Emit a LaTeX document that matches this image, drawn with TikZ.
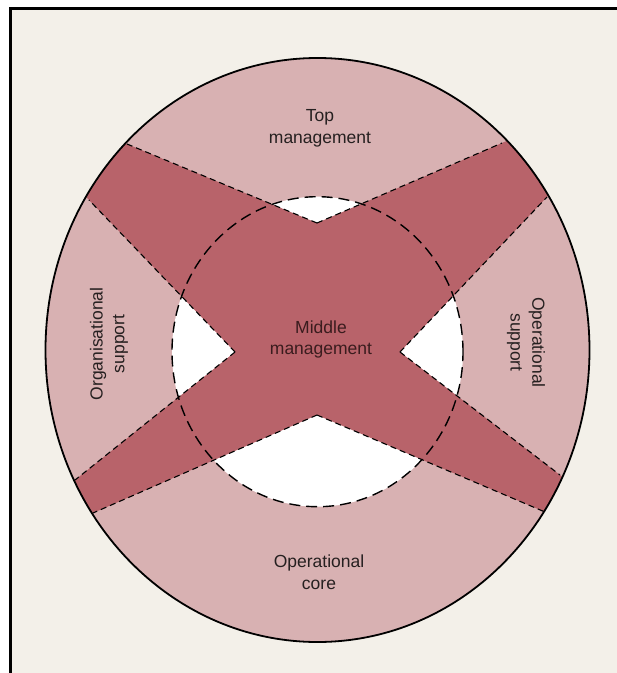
\documentclass[tikz,border=0pt]{standalone}
\usepackage{fontspec}
\setmainfont{Liberation Sans}
\usetikzlibrary{calc}
\definecolor{paper}{RGB}{243,240,233}
\definecolor{ringpink}{RGB}{216,177,178}
\definecolor{xrose}{RGB}{184,99,106}
\definecolor{inkc}{RGB}{38,32,32}
\definecolor{inkm}{RGB}{58,28,30}
\tikzset{
  armedge/.style={line width=1.1pt, dash pattern=on 6pt off 4pt, black},
  innerdash/.style={line width=1.4pt, dash pattern=on 11pt off 6pt, black},
  outline/.style={line width=1.8pt, black},
  lbl/.style={font=\fontsize{17.5}{21.6}\selectfont, align=center, inner sep=0pt, text=inkc},
}
\begin{document}
\begin{tikzpicture}[x=1pt,y=-1pt]
\useasboundingbox (0,0) rectangle (617,673);
\fill[white] (0,0) rectangle (617,673);
\fill[paper] (10,8) rectangle (617,673);
\draw[line width=3pt] (10,673) -- (10,8) -- (617,8);

\coordinate (C) at (317.5,350);
\coordinate (IC) at (317.5,351.7);
\coordinate (nt) at (317,223);
\coordinate (nb) at (317,415);
\coordinate (nl) at (235,352);
\coordinate (nr) at (400,352);
\coordinate (ult) at (127,144);
\coordinate (ulb) at (89,200);
\coordinate (urt) at (502,143);
\coordinate (urb) at (547,197);
\coordinate (llt) at (75,480);
\coordinate (llb) at (93,513);
\coordinate (lrt) at (560,475);
\coordinate (lrb) at (545,512);

\fill[ringpink] (C) ellipse [x radius=272pt, y radius=292pt];
\fill[white] (IC) ellipse [x radius=145.5pt, y radius=155pt];
\begin{scope}
\clip (C) ellipse [x radius=272pt, y radius=292pt];
\fill[xrose] ($(nt)!1.4!(ult)$) -- (nt) -- ($(nt)!1.4!(urt)$) -- ($(nr)!1.4!(urb)$) -- (nr)
  -- ($(nr)!1.4!(lrt)$) -- ($(nb)!1.4!(lrb)$) -- (nb) -- ($(nb)!1.4!(llb)$)
  -- ($(nl)!1.4!(llt)$) -- (nl) -- ($(nl)!1.4!(ulb)$) -- cycle;
\end{scope}

\draw[armedge] (nt) -- (ult);
\draw[armedge] (nl) -- (ulb);
\draw[armedge] (nt) -- (urt);
\draw[armedge] (nr) -- (urb);
\draw[armedge] (nl) -- (llt);
\draw[armedge] (nb) -- (llb);
\draw[armedge] (nr) -- (lrt);
\draw[armedge] (nb) -- (lrb);

\draw[innerdash] (IC) ellipse [x radius=145.5pt, y radius=155pt];
\draw[outline] (C) ellipse [x radius=272pt, y radius=292pt];

\node[lbl] (top) at (320,128) {Top\\management};
\node[lbl, text=inkm] (mid) at (321,339.5) {Middle\\management};
\node[lbl] (core) at (319,572) {Operational\\core};
\node[lbl, rotate=90] (org) at (109,344) {Organisational\\support};
\node[lbl, rotate=-90] (ops) at (526,342.5) {Operational\\support};
\end{tikzpicture}
\end{document}
